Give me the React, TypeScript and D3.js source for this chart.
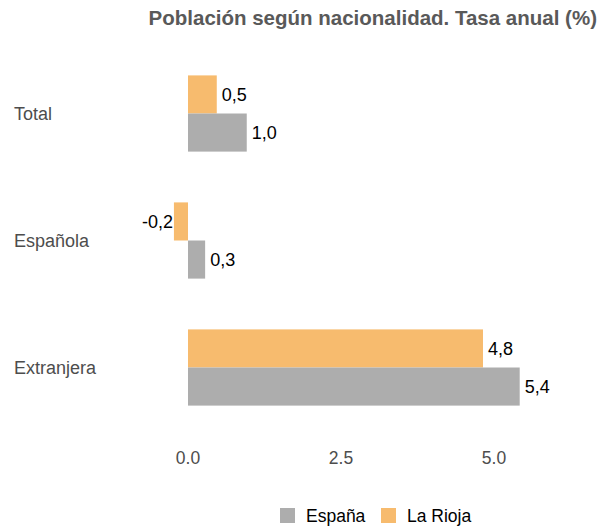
import { useEffect, useRef } from "react";
import * as d3 from "d3";

const categories = ["Total", "Española", "Extranjera"];
const seriesNames = ["La Rioja", "España"];
const espana = [0.96, 0.28, 5.42];
const laRioja = [0.47, -0.23, 4.82];
const xTicks = [0, 2.5, 5];

const colors: Record<string, string> = { "España": "#adadad", "La Rioja": "#f7bb6e" };

export default function App() {
  const ref = useRef<SVGSVGElement | null>(null);

  useEffect(() => {
    if (!ref.current) return;
    const svg = d3.select(ref.current);
    svg.selectAll("*").remove();

    const width = 606;
    const height = 529;
    const font = "'Liberation Sans', Arial, sans-serif";

    // Escala x
    const x = d3.scaleLinear().domain([0, 5]).range([188, 494]);

    // Escala de categorías
    const y = d3.scaleBand<string>().domain(categories).range([50, 431]).paddingInner(0.4).paddingOuter(0.2);
    const y1 = d3.scaleBand<string>().domain(seriesNames).range([0, y.bandwidth()]);

    svg.attr("width", width).attr("height", height).style("font-family", font);

    // Título
    svg.append("text")
      .attr("x", 597)
      .attr("y", 25)
      .attr("text-anchor", "end")
      .attr("font-size", 20.5)
      .attr("font-weight", "bold")
      .attr("fill", "#595959")
      .text("Población según nacionalidad. Tasa anual (%)");

    // Etiquetas de categoría
    svg.append("g").selectAll("text")
      .data(categories)
      .join("text")
      .attr("x", 14)
      .attr("y", d => (y(d) ?? 0) + y.bandwidth() / 2)
      .attr("dy", "0.35em")
      .attr("font-size", 18)
      .attr("fill", "#4d4d4d")
      .text(d => d);

    // Ticks eje x
    svg.append("g").selectAll("text")
      .data(xTicks)
      .join("text")
      .attr("x", d => x(d))
      .attr("y", 458)
      .attr("dy", "0.35em")
      .attr("text-anchor", "middle")
      .attr("font-size", 17.5)
      .attr("fill", "#4d4d4d")
      .text(d => d3.format(".1f")(d));

    const rows = categories.flatMap((c, i) => [
      { cat: c, serie: "La Rioja", v: laRioja[i] },
      { cat: c, serie: "España", v: espana[i] },
    ]);

    const g = svg.append("g");
    g.selectAll("rect")
      .data(rows)
      .join("rect")
      .attr("x", d => x(Math.min(0, d.v)))
      .attr("y", d => (y(d.cat) ?? 0) + (y1(d.serie) ?? 0))
      .attr("width", d => Math.abs(x(d.v) - x(0)))
      .attr("height", y1.bandwidth())
      .attr("fill", d => colors[d.serie]);

    g.selectAll("text")
      .data(rows)
      .join("text")
      .attr("x", d => (d.v >= 0 ? x(d.v) + 5 : x(d.v) - 1))
      .attr("y", d => (y(d.cat) ?? 0) + (y1(d.serie) ?? 0) + y1.bandwidth() / 2)
      .attr("dy", "0.35em")
      .attr("text-anchor", d => (d.v >= 0 ? "start" : "end"))
      .attr("font-size", 18)
      .attr("fill", "#000")
      .text(d => d.v.toFixed(1).replace(".", ","));

    // Leyenda
    const legend = [
      { name: "España", x: 280 },
      { name: "La Rioja", x: 381 },
    ];
    const lg = svg.append("g").selectAll("g").data(legend).join("g")
      .attr("transform", d => `translate(${d.x},508)`);
    lg.append("rect").attr("width", 15).attr("height", 15).attr("fill", d => colors[d.name]);
    lg.append("text")
      .attr("x", 26)
      .attr("y", 8)
      .attr("dy", "0.35em")
      .attr("font-size", 17.5)
      .attr("fill", "#000")
      .text(d => d.name);
  }, []);

  return (
    <svg
      ref={ref}
      width={606}
      height={529}
      style={{ display: "block", position: "absolute", left: 0, top: 0 }}
    />
  );
}
